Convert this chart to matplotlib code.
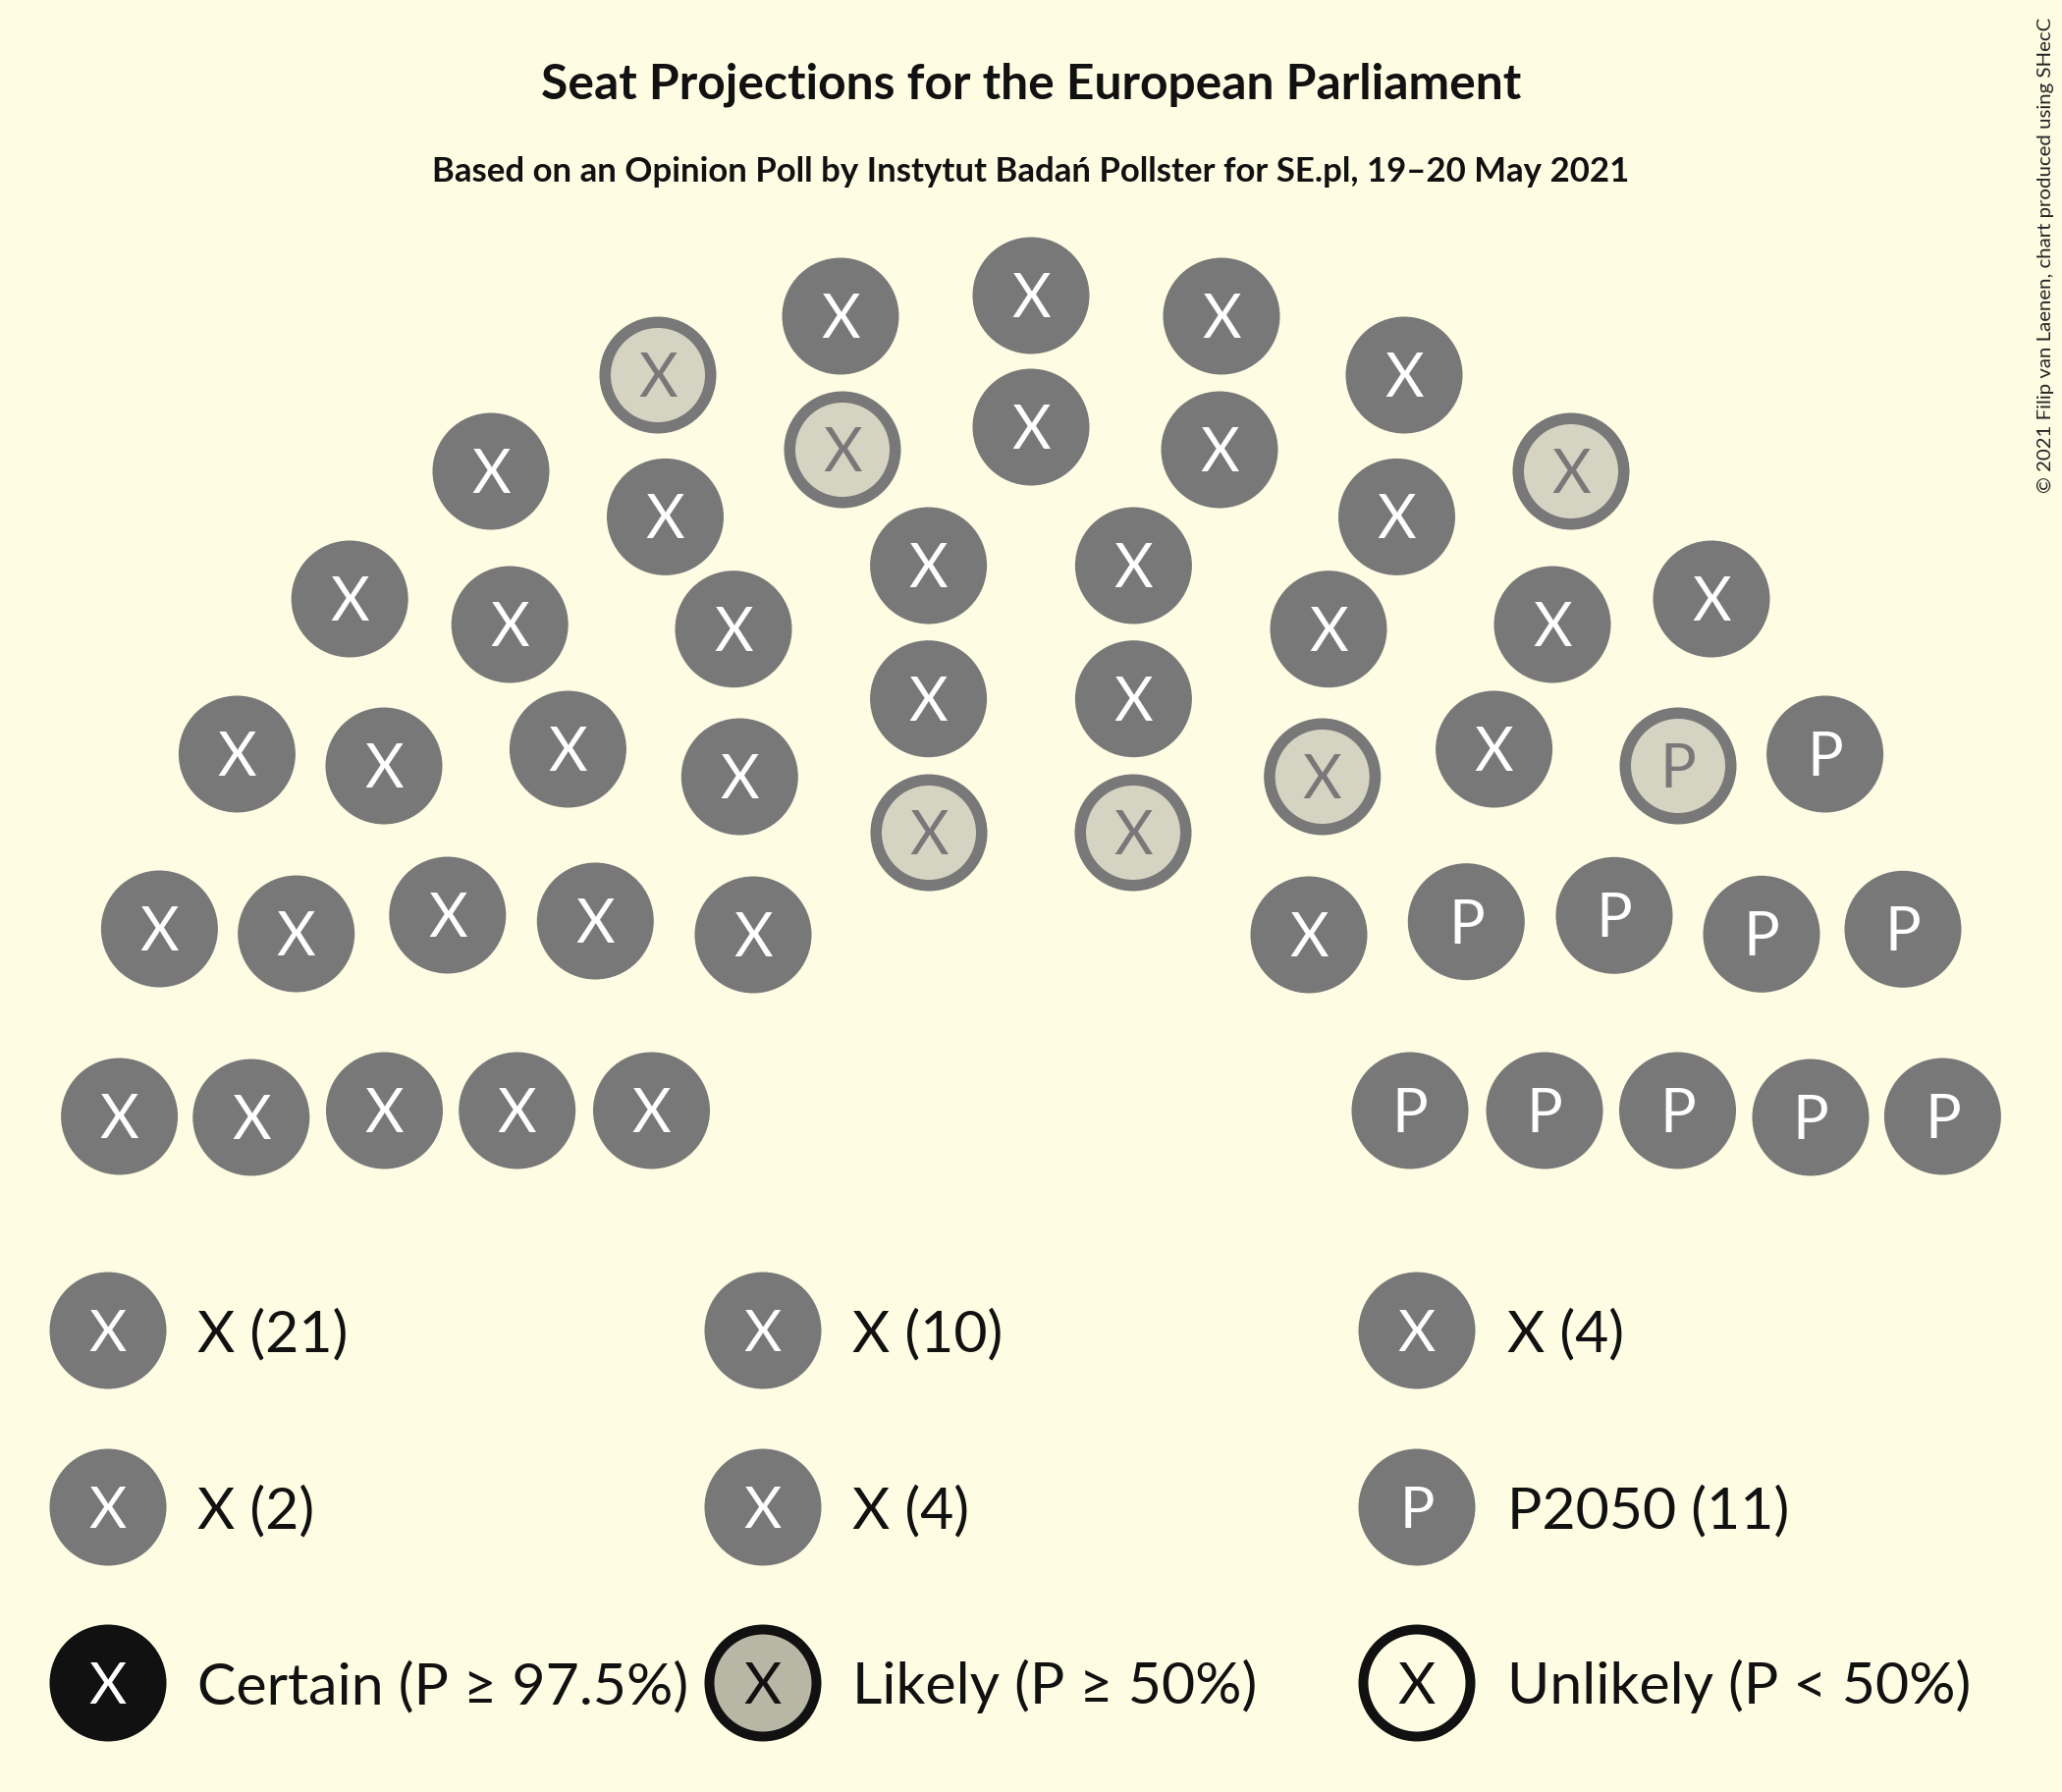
"""
Seat projection hemicycle for the European Parliament (Poland, 52 seats),
poll by Instytut Badań Pollster for SE.pl, 19–20 May 2021.
"""

import matplotlib

matplotlib.use("Agg")
import matplotlib.pyplot as plt
from matplotlib.patches import Circle

# ---------------------------------------------------------------------------
# Data
# ---------------------------------------------------------------------------

# seat centres, in reference pixels (x right, y down)
SEAT_X = [
    121.6, 255.8, 391.5, 526.7, 663.5,
    162.4, 301.7, 455.8, 606.3, 767.0,
    241.4, 391.0, 578.4, 753.3,
    356.2, 519.2, 747.0,
    500.0, 677.5,
    670.0,
    856.0, 1050.0, 1244.0,
    858.0, 1050.0, 1242.0,
    945.6, 1154.4,
    945.6, 1154.4,
    946.0, 1154.0,
    1430.0,
    1600.0, 1422.5,
    1353.0, 1581.0, 1743.0,
    1346.7, 1521.6, 1709.0, 1858.6,
    1333.0, 1493.3, 1644.0, 1794.0, 1938.0,
    1436.0, 1573.0, 1708.5, 1844.0, 1978.4,
]
SEAT_Y = [
    1137.0, 1138.0, 1131.0, 1131.0, 1131.0,
    946.0, 951.0, 932.0, 938.0, 952.0,
    768.0, 780.0, 763.0, 791.0,
    610.0, 636.0, 640.7,
    480.0, 526.4,
    382.0,
    322.0, 301.0, 322.0,
    458.0, 435.0, 458.0,
    576.0, 576.0,
    711.7, 711.7,
    848.0, 848.0,
    382.0,
    480.0, 526.4,
    640.7, 636.0, 610.0,
    791.0, 763.0, 780.0, 768.0,
    952.0, 938.7, 932.3, 951.3, 946.3,
    1131.0, 1131.0, 1131.0, 1138.0, 1137.0,
]
SEAT_LETTER = [
    "X", "X", "X", "X", "X",
    "X", "X", "X", "X", "X",
    "X", "X", "X", "X",
    "X", "X", "X",
    "X", "X",
    "X",
    "X", "X", "X",
    "X", "X", "X",
    "X", "X",
    "X", "X",
    "X", "X",
    "X",
    "X", "X",
    "X", "X", "X",
    "X", "X", "P", "P",
    "X", "P", "P", "P", "P",
    "P", "P", "P", "P", "P",
]
# True where the seat is only "likely" (P >= 50 %)
SEAT_LIKELY = [
    False, False, False, False, False,
    False, False, False, False, False,
    False, False, False, False,
    False, False, False,
    False, False,
    True,
    False, False, False,
    True, False, False,
    False, False,
    False, False,
    True, True,
    False,
    True, False,
    False, False, False,
    True, False, True, False,
    False, False, False, False, False,
    False, False, False, False, False,
]

PARTY_NAMES = ["X", "X", "X", "X", "X", "P2050"]
PARTY_LETTERS = ["X", "X", "X", "X", "X", "P"]
PARTY_SEATS = [21, 10, 4, 2, 4, 11]

STATUS_LABELS = ["Certain (P ≥ 97.5%)", "Likely (P ≥ 50%)", "Unlikely (P < 50%)"]

TITLE = "Seat Projections for the European Parliament"
SUBTITLE = "Based on an Opinion Poll by Instytut Badań Pollster for SE.pl, 19–20 May 2021"
CREDIT = "© 2021 Filip van Laenen, chart produced using SHecC"

# ---------------------------------------------------------------------------
# Styling
# ---------------------------------------------------------------------------

BACKGROUND = "#fefce3"
SEAT_GRAY = "#787878"
LIKELY_FILL = "#d5d3c1"
LEGEND_LIKELY_FILL = "#b8b6a4"
INK = "#111111"

DPI = 100
RADIUS = 59.5
RING = 11.5
SEAT_FONT = 44
LEGEND_FONT = 42.5
CAP = 0.7165  # Lato cap height / em

FAMILY = ["Lato", "DejaVu Sans"]
plt.rcParams["font.family"] = FAMILY


def baseline(y, size):
    """Baseline that centres a capital letter vertically on y (y grows down)."""
    return y + CAP * size * DPI / 72 / 2


def draw_disc(ax, x, y, letter, face, ring=None, ring_color=None, text_color="white",
              size=SEAT_FONT):
    if ring is None:
        ax.add_patch(Circle((x, y), RADIUS, facecolor=face, edgecolor="none"))
    else:
        ax.add_patch(Circle((x, y), RADIUS, facecolor=ring_color, edgecolor="none"))
        ax.add_patch(Circle((x, y), RADIUS - ring, facecolor=face, edgecolor="none"))
    ax.text(x, baseline(y, size), letter, fontsize=size, color=text_color,
            ha="center", va="baseline")


def main() -> None:
    fig = plt.figure(figsize=(21, 18.25), dpi=DPI, facecolor=BACKGROUND)
    ax = fig.add_axes([0, 0, 1, 1])
    ax.set_xlim(0, 2100)
    ax.set_ylim(1825, 0)
    ax.set_facecolor(BACKGROUND)
    ax.axis("off")

    # titles
    ax.text(1050, 100, TITLE, fontsize=35.8, fontweight="bold", color=INK,
            ha="center", va="baseline")
    ax.text(1050, 185, SUBTITLE, fontsize=25, fontweight="bold", color=INK,
            ha="center", va="baseline")
    ax.text(2083, 18, CREDIT, fontsize=14.7, color="#222222", rotation=90,
            ha="center", va="top")

    # seats
    for x, y, letter, likely in zip(SEAT_X, SEAT_Y, SEAT_LETTER, SEAT_LIKELY):
        if likely:
            draw_disc(ax, x, y, letter, LIKELY_FILL, ring=RING, ring_color=SEAT_GRAY,
                      text_color=SEAT_GRAY)
        else:
            draw_disc(ax, x, y, letter, SEAT_GRAY)

    # legend: parties
    col_x = [110, 777, 1443]
    text_x = [201, 868, 1535]
    row_y = [1355, 1535, 1714]
    for i, (name, letter, seats) in enumerate(zip(PARTY_NAMES, PARTY_LETTERS, PARTY_SEATS)):
        r, c = divmod(i, 3)
        draw_disc(ax, col_x[c], row_y[r], letter, SEAT_GRAY, size=LEGEND_FONT)
        ax.text(text_x[c], baseline(row_y[r], LEGEND_FONT), f"{name} ({seats})",
                fontsize=LEGEND_FONT, color=INK, ha="left", va="baseline")

    # legend: certainty
    y = row_y[2]
    draw_disc(ax, col_x[0], y, "X", INK, size=LEGEND_FONT)
    draw_disc(ax, col_x[1], y, "X", LEGEND_LIKELY_FILL, ring=10, ring_color=INK,
              text_color=INK, size=LEGEND_FONT)
    draw_disc(ax, col_x[2], y, "X", BACKGROUND, ring=10, ring_color=INK,
              text_color=INK, size=LEGEND_FONT)
    for c, label in enumerate(STATUS_LABELS):
        ax.text(text_x[c], baseline(y, LEGEND_FONT), label, fontsize=LEGEND_FONT,
                color=INK, ha="left", va="baseline")

    fig.savefig("out.png", dpi=DPI, facecolor=BACKGROUND)


if __name__ == "__main__":
    main()
